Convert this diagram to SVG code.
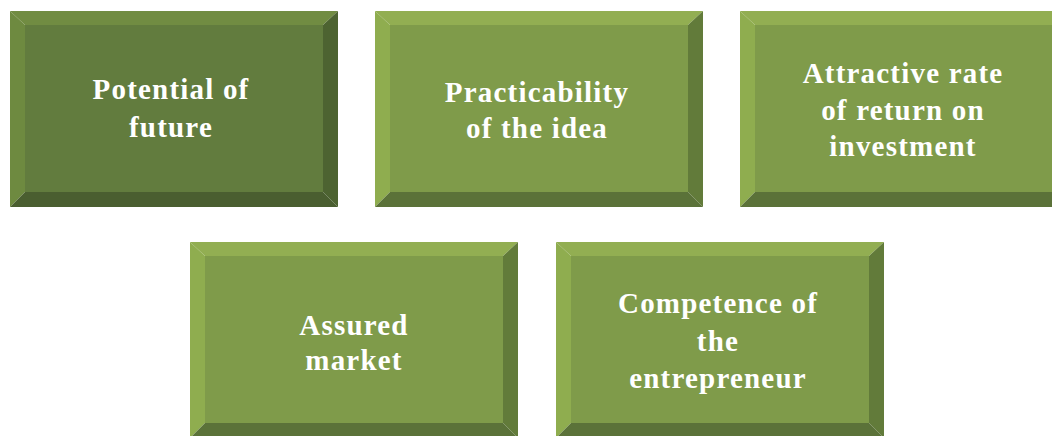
<svg xmlns="http://www.w3.org/2000/svg" width="1052" height="436" viewBox="0 0 1052 436">
<style>
text{font-family:"Liberation Serif","Times New Roman",serif;font-weight:bold;font-size:29px;letter-spacing:1.2px;fill:#ffffff;text-anchor:middle}
.dk .face{fill:#627C3E}.dk .t{fill:#718C42}.dk .l{fill:#6E8A40}.dk .r{fill:#4D6331}.dk .b{fill:#4A5E30}
.lt .face{fill:#7F9B4A}.lt .t{fill:#92AE52}.lt .l{fill:#8FAD4F}.lt .r{fill:#627B3A}.lt .b{fill:#5B7239}
</style>
<rect width="1052" height="436" fill="#ffffff"/>
<g id="node1" class="dk" transform="translate(10,11)">
<polygon class="t" points="0,0 328,0 313,14 15,14"/>
<polygon class="l" points="0,0 15,14 15,181 0,196"/>
<polygon class="r" points="328,0 328,196 313,181 313,14"/>
<polygon class="b" points="0,196 15,181 313,181 328,196"/>
<rect class="face" x="15" y="14" width="298" height="167"/>
<text x="161" y="88">Potential of</text>
<text x="161" y="126">future</text>
</g>
<g id="node2" class="lt" transform="translate(375,11)">
<polygon class="t" points="0,0 328,0 313,14 15,14"/>
<polygon class="l" points="0,0 15,14 15,181 0,196"/>
<polygon class="r" points="328,0 328,196 313,181 313,14"/>
<polygon class="b" points="0,196 15,181 313,181 328,196"/>
<rect class="face" x="15" y="14" width="298" height="167"/>
<text x="162" y="91">Practicability</text>
<text x="162" y="127">of the idea</text>
</g>
<g id="node3" class="lt" transform="translate(740,11)">
<polygon class="t" points="0,0 328,0 313,14 15,14"/>
<polygon class="l" points="0,0 15,14 15,181 0,196"/>
<polygon class="r" points="328,0 328,196 313,181 313,14"/>
<polygon class="b" points="0,196 15,181 313,181 328,196"/>
<rect class="face" x="15" y="14" width="298" height="167"/>
<text x="163" y="72">Attractive rate</text>
<text x="163" y="109">of return on</text>
<text x="163" y="145">investment</text>
</g>
<g id="node4" class="lt" transform="translate(190,242)">
<polygon class="t" points="0,0 328,0 313,14 15,14"/>
<polygon class="l" points="0,0 15,14 15,181 0,196"/>
<polygon class="r" points="328,0 328,196 313,181 313,14"/>
<polygon class="b" points="0,196 15,181 313,181 328,196"/>
<rect class="face" x="15" y="14" width="298" height="167"/>
<text x="164" y="93">Assured</text>
<text x="164" y="128">market</text>
</g>
<g id="node5" class="lt" transform="translate(556,242)">
<polygon class="t" points="0,0 328,0 313,14 15,14"/>
<polygon class="l" points="0,0 15,14 15,181 0,196"/>
<polygon class="r" points="328,0 328,196 313,181 313,14"/>
<polygon class="b" points="0,196 15,181 313,181 328,196"/>
<rect class="face" x="15" y="14" width="298" height="167"/>
<text x="162" y="71">Competence of</text>
<text x="162" y="109">the</text>
<text x="162" y="146">entrepreneur</text>
</g>
<g id="connectors"></g>
</svg>
